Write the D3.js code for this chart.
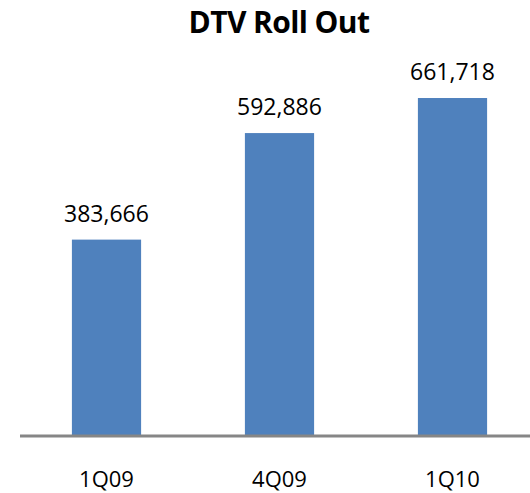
<!doctype html>
<html lang="en">
  <head>
    <meta charset="utf-8">
    <title>DTV Roll Out</title>
    <script src="https://d3js.org/d3.v7.min.js"></script>
    <style>
      body { margin: 0; background: #fff; }
      text { font-family: "Open Sans", sans-serif; fill: #000; }
    </style>
  </head>

  <body>
    <svg width="530" height="493"></svg>

    <script>
      var categories = ["1Q09", "4Q09", "1Q10"];
      var values = [383666, 592886, 661718];
      var title = "DTV Roll Out";

      var svg = d3.select('svg');

      var baseY = 435;

      var x = d3.scaleBand()
        .domain(categories)
        .range([20, 539])
        .paddingInner(0.6)
        .paddingOuter(0.3);

      var y = d3.scaleLinear()
        .domain([0, 800000])
        .range([baseY, 27.6]);

      var fmt = d3.format(',');

      svg.append('text')
        .attr('x', 279)
        .attr('y', 33)
        .attr('text-anchor', 'middle')
        .style('font-weight', 'bold')
        .style('font-size', '30px')
        .style('letter-spacing', '-0.6px')
        .text(title);

      svg.selectAll('rect.bar')
        .data(values)
        .enter()
        .append('rect')
          .attr('class', 'bar')
          .attr('x', function(d, i){ return x(categories[i]); })
          .attr('width', x.bandwidth())
          .attr('y', function(d){ return y(d); })
          .attr('height', function(d){ return baseY - y(d); })
          .style('fill', '#4F81BD');

      svg.selectAll('text.val')
        .data(values)
        .enter()
        .append('text')
          .attr('class', 'val')
          .attr('x', function(d, i){ return x(categories[i]) + x.bandwidth() / 2; })
          .attr('y', function(d){ return y(d) - 18; })
          .attr('text-anchor', 'middle')
          .style('font-size', '23px')
          .text(function(d){ return fmt(d); });

      // category axis
      var axis = svg.append('g')
        .attr('transform', 'translate(0,' + (baseY + 1) + ')')
        .call(d3.axisBottom(x).tickSize(0).tickPadding(35));

      axis.select('.domain')
        .attr('d', 'M20,0H530')
        .style('stroke', '#868686')
        .style('stroke-width', 3);

      axis.selectAll('.tick text')
        .style('font-family', '"Open Sans", sans-serif')
        .style('font-size', '22px')
        .style('fill', '#000');
    </script>
  </body>
</html>
